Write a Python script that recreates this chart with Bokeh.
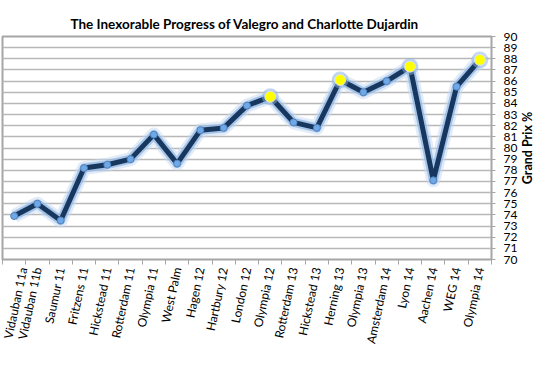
from bokeh.plotting import figure
from bokeh.models import FixedTicker, Range1d, Label
from bokeh.layouts import row
from bokeh.embed import file_html
from bokeh.resources import INLINE

events = ["Vidauban 11a", "Vidauban 11b", "Saumur 11", "Fritzens 11", "Hickstead 11",
          "Rotterdam 11", "Olympia 11", "West Palm", "Hagen 12", "Hartbury 12",
          "London 12", "Olympia 12", "Rotterdam 13", "Hickstead 13", "Herning 13",
          "Olympia 13", "Amsterdam 14", "Lyon 14", "Aachen 14", "WEG 14", "Olympia 14"]
scores = [73.9, 75.0, 73.5, 78.2, 78.5, 79.0, 81.2, 78.6, 81.6, 81.8, 83.8,
          84.6, 82.3, 81.8, 86.1, 85.0, 86.0, 87.3, 77.1, 85.5, 87.9]
highlight = [False] * 11 + [True] + [False] * 2 + [True] + [False] * 2 + [True] + [False] * 2 + [True]
y_ticks = list(range(70, 91))
y_title = "Grand Prix %"

xs = list(range(len(events)))
y_lo, y_hi = y_ticks[0], y_ticks[-1]

TOP, BOTTOM = 36, 90

p = figure(width=520, height=349, output_backend="svg", toolbar_location=None,
           x_range=Range1d(-0.5, len(events) - 0.5), y_range=Range1d(y_lo, y_hi),
           y_axis_location="right",
           min_border_left=2, min_border_right=20, min_border_top=TOP, min_border_bottom=BOTTOM)

p.title.text = "The Inexorable Progress of Valegro and Charlotte Dujardin"
p.title.text_font = "Lato"
p.title.text_font_size = "13.5px"
p.title.text_font_style = "bold"
p.title.align = "left"
p.title.offset = 68
p.title.text_color = "#000000"

p.background_fill_color = "white"
p.border_fill_color = "white"
p.outline_line_color = "#a6a6a6"
p.outline_line_width = 2

# grid
p.xgrid.grid_line_color = None
p.ygrid.ticker = FixedTicker(ticks=y_ticks)
p.ygrid.grid_line_color = "#b8b8b8"
p.ygrid.grid_line_width = 1.5

# x axis
xa = p.xaxis[0]
xa.ticker = FixedTicker(ticks=xs, minor_ticks=[i - 0.5 for i in range(len(events) + 1)])
xa.major_label_overrides = {i: e for i, e in enumerate(events)}
xa.major_label_orientation = 1.36
xa.major_label_text_font = "Lato"
xa.major_label_text_font_size = "12px"
xa.major_label_text_color = "#000000"
xa.major_tick_out = 0
xa.major_tick_in = 0
xa.minor_tick_out = 5
xa.minor_tick_in = 0
xa.minor_tick_line_color = "#a6a6a6"
xa.axis_line_color = "#a6a6a6"
xa.major_label_standoff = 3

# y axis
ya = p.yaxis[0]
ya.ticker = FixedTicker(ticks=y_ticks)
ya.major_label_text_font = "Lato"
ya.major_label_text_font_size = "12px"
ya.major_label_text_color = "#000000"
ya.major_tick_out = 4
ya.major_tick_in = 0
ya.minor_tick_line_color = None
ya.axis_line_color = "#a6a6a6"
ya.major_tick_line_color = "#a6a6a6"
ya.major_label_standoff = 8

# glow
p.line(xs, scores, line_color="#c5d9f1", line_width=14, line_alpha=0.5, line_join="round")
p.line(xs, scores, line_color="#8db3e2", line_width=9, line_alpha=0.7, line_join="round")
p.line(xs, scores, line_color="#17375e", line_width=5, line_join="round")

hx = [x for x, h in zip(xs, highlight) if h]
hy = [s for s, h in zip(scores, highlight) if h]
nx = [x for x, h in zip(xs, highlight) if not h]
ny = [s for s, h in zip(scores, highlight) if not h]

p.scatter(nx, ny, size=7, fill_color="#6fa8e6", line_color="#4f81bd", line_width=1)
p.scatter(hx, hy, size=17, fill_color="#8db3e2", fill_alpha=0.5, line_color=None)
p.scatter(hx, hy, size=11, fill_color="#ffff00", line_color="#dbe5f1", line_width=1)

# narrow strip on the right that carries the axis title, reading bottom-to-top
p2 = figure(width=14, height=349, output_backend="svg", toolbar_location=None,
            x_range=Range1d(0, 1), y_range=Range1d(y_lo, y_hi),
            x_axis_location=None, y_axis_location=None,
            min_border_left=0, min_border_right=0, min_border_top=TOP, min_border_bottom=BOTTOM)
p2.outline_line_color = None
p2.grid.grid_line_color = None
p2.background_fill_color = "white"
p2.border_fill_color = "white"
p2.add_layout(Label(x=0.5, y=(y_lo + y_hi) / 2, text=y_title, angle=3.14159265 / 2,
                    text_align="center", text_baseline="middle",
                    text_font="Lato", text_font_size="12.5px", text_font_style="bold",
                    text_color="#000000"))

layout = row(p, p2)
open("out.html", "w").write(file_html(layout, INLINE))
